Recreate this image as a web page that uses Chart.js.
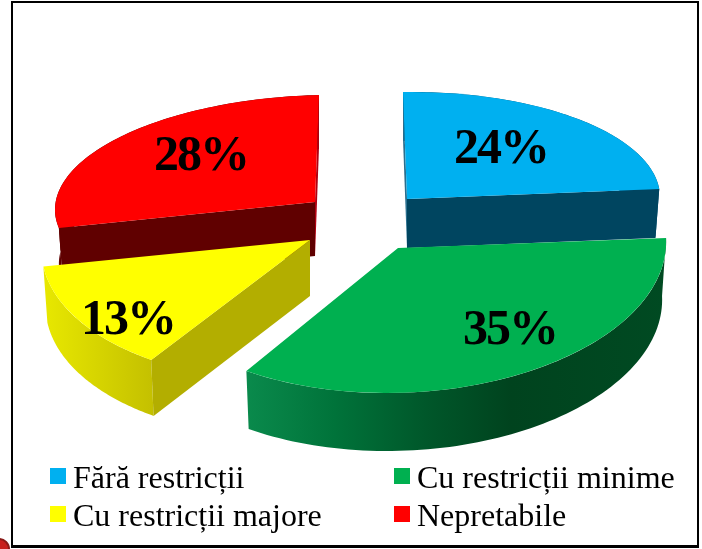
<!DOCTYPE html>
<html>
<head>
<meta charset="utf-8">
<style>
  html, body { margin: 0; background: #fff; }
  #page { position: relative; width: 702px; height: 549px; overflow: hidden; }
  #frame { position: absolute; left: 11px; top: 1px; width: 684px; height: 542px; border: 2px solid #000; border-bottom-width: 3px; border-left-width: 2px; }
  #stamp { position: absolute; left: -12px; top: 538px; width: 18px; height: 18px; border-radius: 50%; background: #c8201e; border: 2px solid #8a1a18; }
  canvas { position: absolute; left: 0; top: 0; }
  .legend-item { position: absolute; font: 32px "Liberation Serif", serif; color: #000; line-height: 34px; white-space: nowrap; }
  .legend-box { position: absolute; width: 16px; height: 16px; }
</style>
</head>
<body>
<div id="page">
  <div id="frame"></div>
  <div id="stamp"></div>
  <canvas id="chart" width="702" height="549"></canvas>
  <div id="legend"></div>
</div>
<script src="https://cdn.jsdelivr.net/npm/chart.js@4"></script>
<script>
const categories = ["Fără restricții", "Cu restricții minime", "Cu restricții majore", "Nepretabile"];
const values = [24, 35, 13, 28];
const topColors = ["#00B0F0", "#00B050", "#FFFF00", "#FF0000"];
const faceColors = ["#004560", "#004A22", "#B3AE00", "#600000"];
const backEdgeColors = ["#2A6F8E", "#004A22", "#B3AE00", "#B00010"];
const wallStops = [
  [[0, "#005577"], [1, "#005577"]],
  [[0, "#0A8A4C"], [0.21, "#00733A"], [0.43, "#00572A"], [0.63, "#00431E"], [1, "#004A22"]],
  [[0, "#E8E800"], [1, "#C4C000"]],
  [[0, "#600000"], [1, "#600000"]]
];

// how each flat slice is tilted onto the page: a,b,c,d map the unit circle, pull moves it off the middle
const tilts = [
  { a: 253, b: -3.3, c: 4, d: 107, pullX: 47, pullY: -25.5, depth: 49, labelX: 93, labelY: -53 },
  { a: 268, b: -1, c: -9.5, d: 145, pullX: 38, pullY: 23.5, depth: 58, labelX: 111, labelY: 79 },
  { a: 268, b: 0, c: -18, d: 142, pullX: -50, pullY: 15.5, depth: 56, labelX: -183, labelY: 77 },
  { a: 260, b: -6, c: -4, d: 107, pullX: -45, pullY: -22.5, depth: 54, labelX: -115, labelY: -49 }
];
const drawOrder = [3, 0, 2, 1]; // back slices first
const bottomShrink = 0.985;

const legendSpots = [[50, 468], [394, 468], [50, 506], [394, 506]];

function mapPoint(arc, tilt, angle, bottom) {
  const cx = arc.x + tilt.pullX;
  const cy = arc.y + tilt.pullY;
  const ux = Math.cos(angle);
  const uy = Math.sin(angle);
  const x = tilt.a * ux + tilt.c * uy;
  const y = tilt.b * ux + tilt.d * uy;
  if (bottom) return { x: cx + x * bottomShrink, y: cy + y + tilt.depth };
  return { x: cx + x, y: cy + y };
}

function drawWall(ctx, arc, tilt, stops) {
  const steps = 80;
  const tops = [];
  const bottoms = [];
  for (let i = 0; i <= steps; i++) {
    const angle = arc.startAngle + (arc.endAngle - arc.startAngle) * i / steps;
    tops.push(mapPoint(arc, tilt, angle, false));
    bottoms.push(mapPoint(arc, tilt, angle, true));
  }
  const xs = tops.concat(bottoms).map(p => p.x);
  const gradient = ctx.createLinearGradient(Math.min(...xs), 0, Math.max(...xs), 0);
  stops.forEach(s => gradient.addColorStop(s[0], s[1]));
  ctx.fillStyle = gradient;
  ctx.beginPath();
  tops.forEach((p, i) => (i ? ctx.lineTo(p.x, p.y) : ctx.moveTo(p.x, p.y)));
  bottoms.reverse().forEach(p => ctx.lineTo(p.x, p.y));
  ctx.closePath();
  ctx.fill();
}

function drawFace(ctx, arc, tilt, angle, color) {
  const apex = { x: arc.x + tilt.pullX, y: arc.y + tilt.pullY };
  const rim = mapPoint(arc, tilt, angle, false);
  const rimLow = mapPoint(arc, tilt, angle, true);
  ctx.fillStyle = color;
  ctx.beginPath();
  ctx.moveTo(apex.x, apex.y);
  ctx.lineTo(rim.x, rim.y);
  ctx.lineTo(rimLow.x, rimLow.y);
  ctx.lineTo(apex.x, apex.y + tilt.depth);
  ctx.closePath();
  ctx.fill();
}

const pie3d = {
  id: "pie3d",
  beforeDatasetDraw(chart, args) {
    const ctx = chart.ctx;
    const arcs = args.meta.data;
    drawOrder.forEach(i => {
      const arc = arcs[i];
      const tilt = tilts[i];
      const r = arc.outerRadius;
      drawWall(ctx, arc, tilt, wallStops[i]);
      // only the cut faces turned towards the viewer, the thin edge at 12 o'clock gets its own colour
      if (Math.abs(Math.cos(arc.startAngle)) < 0.01) drawFace(ctx, arc, tilt, arc.startAngle, backEdgeColors[i]);
      else if (Math.cos(arc.startAngle) < 0) drawFace(ctx, arc, tilt, arc.startAngle, faceColors[i]);
      if (Math.abs(Math.cos(arc.endAngle)) < 0.01) drawFace(ctx, arc, tilt, arc.endAngle, backEdgeColors[i]);
      else if (Math.cos(arc.endAngle) > 0) drawFace(ctx, arc, tilt, arc.endAngle, faceColors[i]);
      ctx.save();
      ctx.translate(arc.x + tilt.pullX, arc.y + tilt.pullY);
      ctx.transform(tilt.a / r, tilt.b / r, tilt.c / r, tilt.d / r, 0, 0);
      ctx.translate(-arc.x, -arc.y);
      arc.draw(ctx);
      ctx.restore();
    });
    return false;
  },
  afterDraw(chart) {
    const ctx = chart.ctx;
    const arcs = chart.getDatasetMeta(0).data;
    ctx.save();
    ctx.font = 'bold 50px "Liberation Serif", serif';
    ctx.letterSpacing = "-2px";
    ctx.fillStyle = "#000";
    ctx.textAlign = "center";
    ctx.textBaseline = "middle";
    values.forEach((v, i) => {
      const tilt = tilts[i];
      ctx.fillText(v + "%", arcs[i].x + tilt.pullX + tilt.labelX + 1, arcs[i].y + tilt.pullY + tilt.labelY + 4);
    });
    ctx.restore();
  }
};

new Chart(document.getElementById("chart"), {
  type: "pie",
  data: {
    labels: categories,
    datasets: [{ data: values, backgroundColor: topColors, borderWidth: 0 }]
  },
  options: {
    responsive: false,
    animation: false,
    events: [],
    radius: 200,
    layout: { padding: { left: 18, bottom: 100 } },
    plugins: { legend: { display: false }, tooltip: { enabled: false } }
  },
  plugins: [pie3d]
});

// legend sits in two aligned columns, which the built-in one can not do
const legend = document.getElementById("legend");
categories.forEach((name, i) => {
  const box = document.createElement("div");
  box.className = "legend-box";
  box.style.left = legendSpots[i][0] + "px";
  box.style.top = legendSpots[i][1] + "px";
  box.style.background = topColors[i];
  const text = document.createElement("div");
  text.className = "legend-item";
  text.style.left = legendSpots[i][0] + 23 + "px";
  text.style.top = legendSpots[i][1] - 8 + "px";
  text.textContent = name;
  legend.appendChild(box);
  legend.appendChild(text);
});
</script>
</body>
</html>
